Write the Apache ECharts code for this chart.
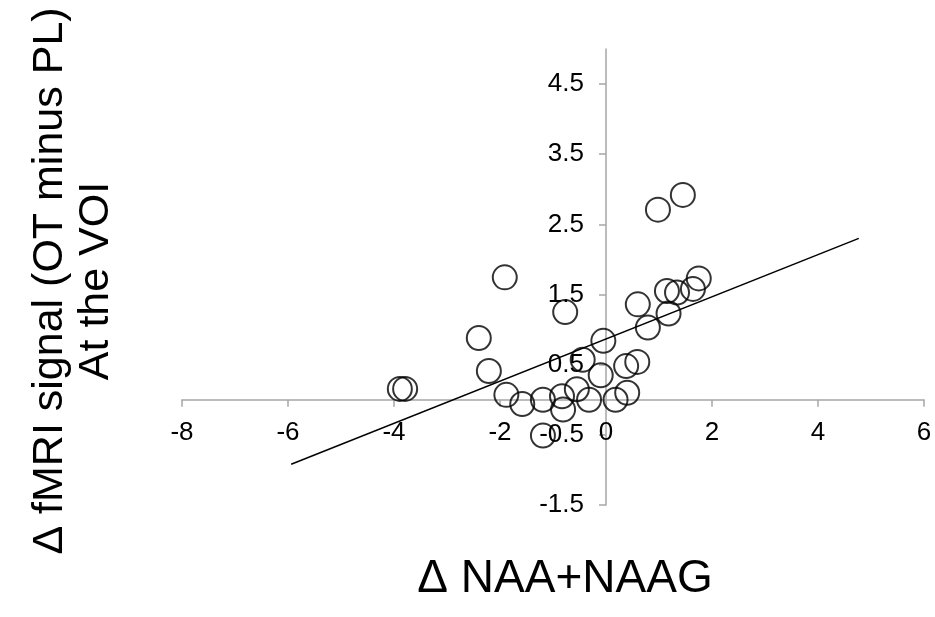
<!DOCTYPE html>
<html>
<head>
<meta charset="utf-8">
<script src="https://cdn.jsdelivr.net/npm/echarts@6/dist/echarts.min.js"></script>
<style>
html,body{margin:0;padding:0;background:#fff;}
#chart{width:935px;height:617px;}
</style>
</head>
<body>
<div id="chart"></div>
<script>
// Scatter points: Δ NAA+NAAG (x) vs Δ fMRI signal (y)
var xValues = [-3.89, -3.79, -2.40, -2.21, -1.91, -1.88, -1.58, -1.19, -1.19, -0.83,
               -0.81, -0.77, -0.55, -0.44, -0.32, -0.10, -0.05, 0.18, 0.38, 0.59,
               0.40, 0.60, 0.79, 0.98, 1.15, 1.18, 1.34, 1.45, 1.64, 1.75];
var yValues = [0.155, 0.155, 0.88, 0.41, 1.745, 0.07, -0.06, 0.0, -0.51, 0.05,
               -0.14, 1.25, 0.15, 0.57, 0.0, 0.35, 0.84, 0.0, 0.48, 0.54,
               0.10, 1.36, 1.03, 2.71, 1.55, 1.23, 1.53, 2.92, 1.58, 1.73];
// Linear trend line end points
var trendX = [-5.94, 4.77];
var trendY = [-0.92, 2.30];
// Axis ticks
var xTicks = [-8, -6, -4, -2, 0, 2, 4, 6];
var yTicks = [-1.5, -0.5, 0.5, 1.5, 2.5, 3.5, 4.5];

var xTitle = 'Δ NAA+NAAG';
var yTitle = ['Δ fMRI signal (OT minus PL)', 'At the VOI'];

var points = xValues.map(function (x, i) { return [x, yValues[i]]; });
var trend = trendX.map(function (x, i) { return [x, trendY[i]]; });

var axisGray = '#a6a6a6';
var font = 'Liberation Sans, Arial, sans-serif';

var chart = echarts.init(document.getElementById('chart'));
chart.setOption({
  backgroundColor: '#fff',
  animation: false,
  grid: { left: 182, right: 11, top: 49, bottom: 112, containLabel: false },
  xAxis: {
    type: 'value',
    position: 'bottom',
    min: -8, max: 6, interval: 2,
    axisLine: { show: true, onZero: false, lineStyle: { color: axisGray, width: 1.5 } },
    axisTick: { show: true, inside: false, length: 7, lineStyle: { color: axisGray, width: 1.5 }, customValues: xTicks },
    axisLabel: { color: '#000', fontSize: 26, fontFamily: font, margin: 20, customValues: xTicks },
    splitLine: { show: false }
  },
  yAxis: {
    type: 'value',
    position: 'left',
    min: -1.5, max: 5, interval: 1,
    axisLine: { show: true, onZero: false, lineStyle: { color: axisGray, width: 1.5 } },
    axisTick: { show: true, inside: false, length: 7, lineStyle: { color: axisGray, width: 1.5 }, customValues: yTicks },
    axisLabel: { color: '#000', fontSize: 26, fontFamily: font, margin: 22, customValues: yTicks },
    splitLine: { show: false }
  },
  series: [
    {
      type: 'scatter',
      data: points,
      symbol: 'circle',
      symbolSize: 24,
      itemStyle: { color: 'rgba(0,0,0,0)', borderColor: '#000', borderWidth: 2 },
      z: 2
    },
    {
      type: 'line',
      data: trend,
      symbol: 'none',
      lineStyle: { color: '#000', width: 1.5 },
      z: 3
    }
  ],
  graphic: [
    {
      type: 'text',
      x: 565, y: 579,
      style: { text: xTitle, font: '46px ' + font, fill: '#000', textAlign: 'center', textVerticalAlign: 'middle' }
    },
    {
      type: 'text',
      x: 73, y: 281,
      rotation: Math.PI / 2,
      style: { text: yTitle.join('\n'), font: '43px ' + font, lineHeight: 46, fill: '#000', textAlign: 'center', textVerticalAlign: 'middle' }
    }
  ]
});

// Move the axes so they cross at the origin (0, 0), labels included.
var origin = chart.convertToPixel({ gridIndex: 0 }, [0, 0]);
var corner = chart.convertToPixel({ gridIndex: 0 }, [-8, -1.5]);
chart.setOption({
  xAxis: { offset: origin[1] - corner[1] },
  yAxis: { offset: corner[0] - origin[0] }
});
</script>
</body>
</html>
